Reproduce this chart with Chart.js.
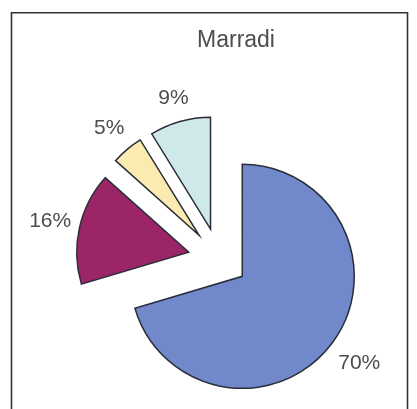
<!DOCTYPE html>
<html>
<head>
<meta charset="utf-8">
<style>
  html, body { margin: 0; padding: 0; background: #ffffff; }
  #wrap { width: 417px; height: 409px; position: relative; overflow: hidden; }
  canvas { display: block; }
</style>
<script src="https://cdn.jsdelivr.net/npm/chart.js@4.4.1/dist/chart.umd.min.js"></script>
</head>
<body>
<div id="wrap"><canvas id="chart" width="417" height="409"></canvas></div>
<script>
// ---- data ----
const chartTitle = 'Marradi';
const categories = ['Quota 1', 'Quota 2', 'Quota 3', 'Quota 4'];
const values = [70.4, 16.2, 4.6, 8.8];
const percentLabels = ['70%', '16%', '5%', '9%'];

// ---- styles ----
const sliceColors = ['#7189cb', '#9b2566', '#fcebb1', '#cfe9ea'];
const explodeDist = [29, 31, 31, 31];
const labelGap = [34, 30, 28, 24];
const textColor = '#4d4d4d';
const fontFamily = '"Liberation Sans", Arial, Helvetica, sans-serif';

// frame around the chart
const framePlugin = {
  id: 'frame',
  beforeDraw(chart) {
    const ctx = chart.ctx;
    ctx.save();
    ctx.strokeStyle = '#333333';
    ctx.lineWidth = 1.6;
    ctx.beginPath();
    ctx.moveTo(11.5, 420);
    ctx.lineTo(11.5, 12.8);
    ctx.lineTo(407.5, 12.8);
    ctx.lineTo(407.5, 420);
    ctx.stroke();
    ctx.restore();
  }
};

// move each slice outward along its mid angle (exploded pie)
const explodePlugin = {
  id: 'explode',
  afterDatasetUpdate(chart, args) {
    const meta = chart.getDatasetMeta(args.index);
    const ca = chart.chartArea;
    const cx = (ca.left + ca.right) / 2;
    const cy = (ca.top + ca.bottom) / 2;
    meta.data.forEach((arc, i) => {
      const mid = (arc.startAngle + arc.endAngle) / 2;
      arc.x = cx + Math.cos(mid) * explodeDist[i];
      arc.y = cy + Math.sin(mid) * explodeDist[i];
    });
  }
};

// title and percent labels
const textPlugin = {
  id: 'texts',
  afterDatasetsDraw(chart) {
    const ctx = chart.ctx;
    ctx.save();
    ctx.fillStyle = textColor;
    ctx.textAlign = 'center';
    ctx.textBaseline = 'middle';
    ctx.font = '23px ' + fontFamily;
    ctx.fillText(chartTitle, 236, 41);
    ctx.font = '21px ' + fontFamily;
    const meta = chart.getDatasetMeta(0);
    meta.data.forEach((arc, i) => {
      const mid = (arc.startAngle + arc.endAngle) / 2;
      const d = arc.outerRadius + labelGap[i];
      ctx.fillText(percentLabels[i], arc.x + Math.cos(mid) * d, arc.y + Math.sin(mid) * d);
    });
    ctx.restore();
  }
};

new Chart(document.getElementById('chart'), {
  type: 'pie',
  data: {
    labels: categories,
    datasets: [{
      data: values,
      backgroundColor: sliceColors,
      borderColor: '#2a2e3a',
      borderWidth: 1.5,
      borderJoinStyle: 'miter',
      radius: 112,
      clip: false
    }]
  },
  options: {
    responsive: false,
    devicePixelRatio: 1,
    animation: false,
    layout: { padding: { left: 21, right: 0, top: 109, bottom: 0 } },
    plugins: {
      legend: { display: false },
      title: { display: false },
      tooltip: { enabled: false }
    },
    events: []
  },
  plugins: [framePlugin, explodePlugin, textPlugin]
});
</script>
</body>
</html>
